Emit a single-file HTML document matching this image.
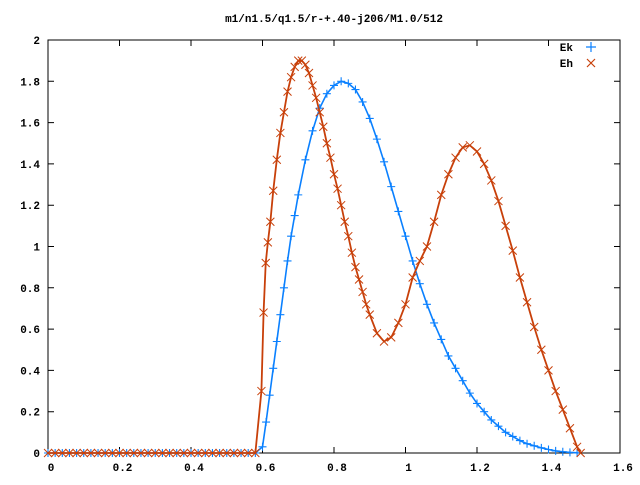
<!DOCTYPE html>
<html><head><meta charset="utf-8"><style>
body{margin:0;background:#fff;width:640px;height:480px;overflow:hidden}
text{font-family:"Liberation Mono",monospace;font-size:11px;font-weight:bold;fill:#000}
</style></head><body>
<svg id="chart" width="640" height="480" xmlns="http://www.w3.org/2000/svg">
<rect x="0" y="0" width="640" height="480" fill="#fff"/>
<text x="334" y="22" text-anchor="middle">m1/n1.5/q1.5/r-+.40-j206/M1.0/512</text>
<g id="axes"></g>
<g id="series"></g>
<g>
<text x="573" y="51" text-anchor="end">Ek</text>
<text x="573" y="67" text-anchor="end">Eh</text>
<path d="M586 47h10M591 42v10" stroke="#0a80ff" stroke-width="1.2"/>
<path d="M587 59l8 8M587 67l8-8" stroke="#c8400a" stroke-width="1.2"/>
</g>
</svg>
<script>
const xTicks=[0,0.2,0.4,0.6,0.8,1,1.2,1.4,1.6];
const xTickLabels=["0","0.2","0.4","0.6","0.8","1","1.2","1.4","1.6"];
const yTicks=[0,0.2,0.4,0.6,0.8,1,1.2,1.4,1.6,1.8,2];
const yTickLabels=["0","0.2","0.4","0.6","0.8","1","1.2","1.4","1.6","1.8","2"];
const ekX=[0,0.02,0.04,0.06,0.08,0.1,0.12,0.14,0.16,0.18,0.2,0.22,0.24,0.26,0.28,0.3,0.32,0.34,0.36,0.38,0.4,0.42,0.44,0.46,0.48,0.5,0.52,0.54,0.56,0.58,0.6,0.61,0.62,0.63,0.64,0.65,0.66,0.67,0.68,0.69,0.7,0.72,0.74,0.76,0.78,0.8,0.82,0.84,0.86,0.88,0.9,0.92,0.94,0.96,0.98,1,1.02,1.04,1.06,1.08,1.1,1.12,1.14,1.16,1.18,1.2,1.22,1.24,1.26,1.28,1.3,1.32,1.34,1.36,1.38,1.4,1.42,1.44,1.46,1.48];
const ekY=[0,0,0,0,0,0,0,0,0,0,0,0,0,0,0,0,0,0,0,0,0,0,0,0,0,0,0,0,0,0,0.03,0.15,0.28,0.41,0.54,0.67,0.8,0.93,1.05,1.15,1.25,1.42,1.56,1.67,1.74,1.78,1.8,1.79,1.76,1.7,1.62,1.52,1.41,1.29,1.17,1.05,0.93,0.82,0.72,0.63,0.55,0.47,0.41,0.35,0.29,0.24,0.2,0.16,0.13,0.1,0.08,0.06,0.045,0.035,0.025,0.017,0.01,0.006,0.003,0.001];
const ehX=[0,0.02,0.04,0.06,0.08,0.1,0.12,0.14,0.16,0.18,0.2,0.22,0.24,0.26,0.28,0.3,0.32,0.34,0.36,0.38,0.4,0.42,0.44,0.46,0.48,0.5,0.52,0.54,0.56,0.58,0.597,0.603,0.609,0.615,0.622,0.63,0.64,0.65,0.66,0.67,0.68,0.69,0.7,0.71,0.72,0.73,0.74,0.75,0.76,0.77,0.78,0.79,0.8,0.81,0.82,0.83,0.84,0.85,0.86,0.87,0.88,0.89,0.9,0.92,0.94,0.96,0.98,1,1.02,1.04,1.06,1.08,1.1,1.12,1.14,1.16,1.18,1.2,1.22,1.24,1.26,1.28,1.3,1.32,1.34,1.36,1.38,1.4,1.42,1.44,1.46,1.48,1.49];
const ehY=[0,0,0,0,0,0,0,0,0,0,0,0,0,0,0,0,0,0,0,0,0,0,0,0,0,0,0,0,0,0,0.3,0.68,0.92,1.02,1.12,1.27,1.42,1.55,1.65,1.75,1.82,1.87,1.9,1.9,1.88,1.84,1.78,1.72,1.65,1.58,1.5,1.43,1.35,1.28,1.2,1.12,1.05,0.97,0.9,0.84,0.78,0.72,0.67,0.58,0.54,0.56,0.63,0.72,0.85,0.93,1.0,1.12,1.25,1.35,1.43,1.48,1.49,1.46,1.4,1.32,1.22,1.1,0.98,0.85,0.73,0.61,0.5,0.4,0.3,0.21,0.12,0.03,0];
const X0=48,X1=620,Y0=453,Y1=40;
function sx(v){return X0+(v-0)/(1.6-0)*(X1-X0);}
function sy(v){return Y0-(v-0)/(2-0)*(Y0-Y1);}
const NS="http://www.w3.org/2000/svg";
const axes=document.getElementById('axes'),ser=document.getElementById('series');
function mk(tag,attrs,parent){const e=document.createElementNS(NS,tag);for(const k in attrs)e.setAttribute(k,attrs[k]);parent.appendChild(e);return e;}
const border=mk('rect',{x:X0,y:Y1,width:X1-X0,height:Y0-Y1,fill:'none',stroke:'#000','stroke-width':1},axes);


xTicks.forEach((t,i)=>{
 const p=mk('path',{d:`M${sx(t)} ${Y0}v-6M${sx(t)} ${Y1}v6`,stroke:'#000'},axes);
 
 
 const tx=mk('text',{x:sx(t)+3,y:Y0+18,'text-anchor':'middle'},axes);tx.textContent=xTickLabels[i];
 
 
});
yTicks.forEach((t,i)=>{
 const p=mk('path',{d:`M${X0} ${sy(t)}h6M${X1} ${sy(t)}h-6`,stroke:'#000'},axes);
 
 
 const tx=mk('text',{x:X0-8,y:sy(t)+4,'text-anchor':'end'},axes);tx.textContent=yTickLabels[i];
 
 
});
const zl=mk('path',{d:`M${X0} ${Y0}H${X1}`,stroke:'#000'},axes);


const gEk=mk('g',{stroke:'#0a80ff','stroke-width':1.1,fill:'none'},ser);


const lEk=mk('polyline',{points:ekX.map((x,i)=>sx(x)+','+sy(ekY[i])).join(' '),'stroke-width':1.6},gEk);


ekX.forEach((x,i)=>{const a=sx(x),b=sy(ekY[i]);
 const m=mk('path',{d:`M${a-4} ${b}h8M${a} ${b-4}v8`},gEk);
 
 });
const gEh=mk('g',{stroke:'#c8400a','stroke-width':1,fill:'none'},ser);


const lEh=mk('polyline',{points:ehX.map((x,i)=>sx(x)+','+sy(ehY[i])).join(' '),'stroke-width':1.8},gEh);


ehX.forEach((x,i)=>{const a=sx(x),b=sy(ehY[i]);
 const m=mk('path',{d:`M${a-4} ${b-4}l8 8M${a-4} ${b+4}l8-8`},gEh);
 
 });
</script>
</body></html>
